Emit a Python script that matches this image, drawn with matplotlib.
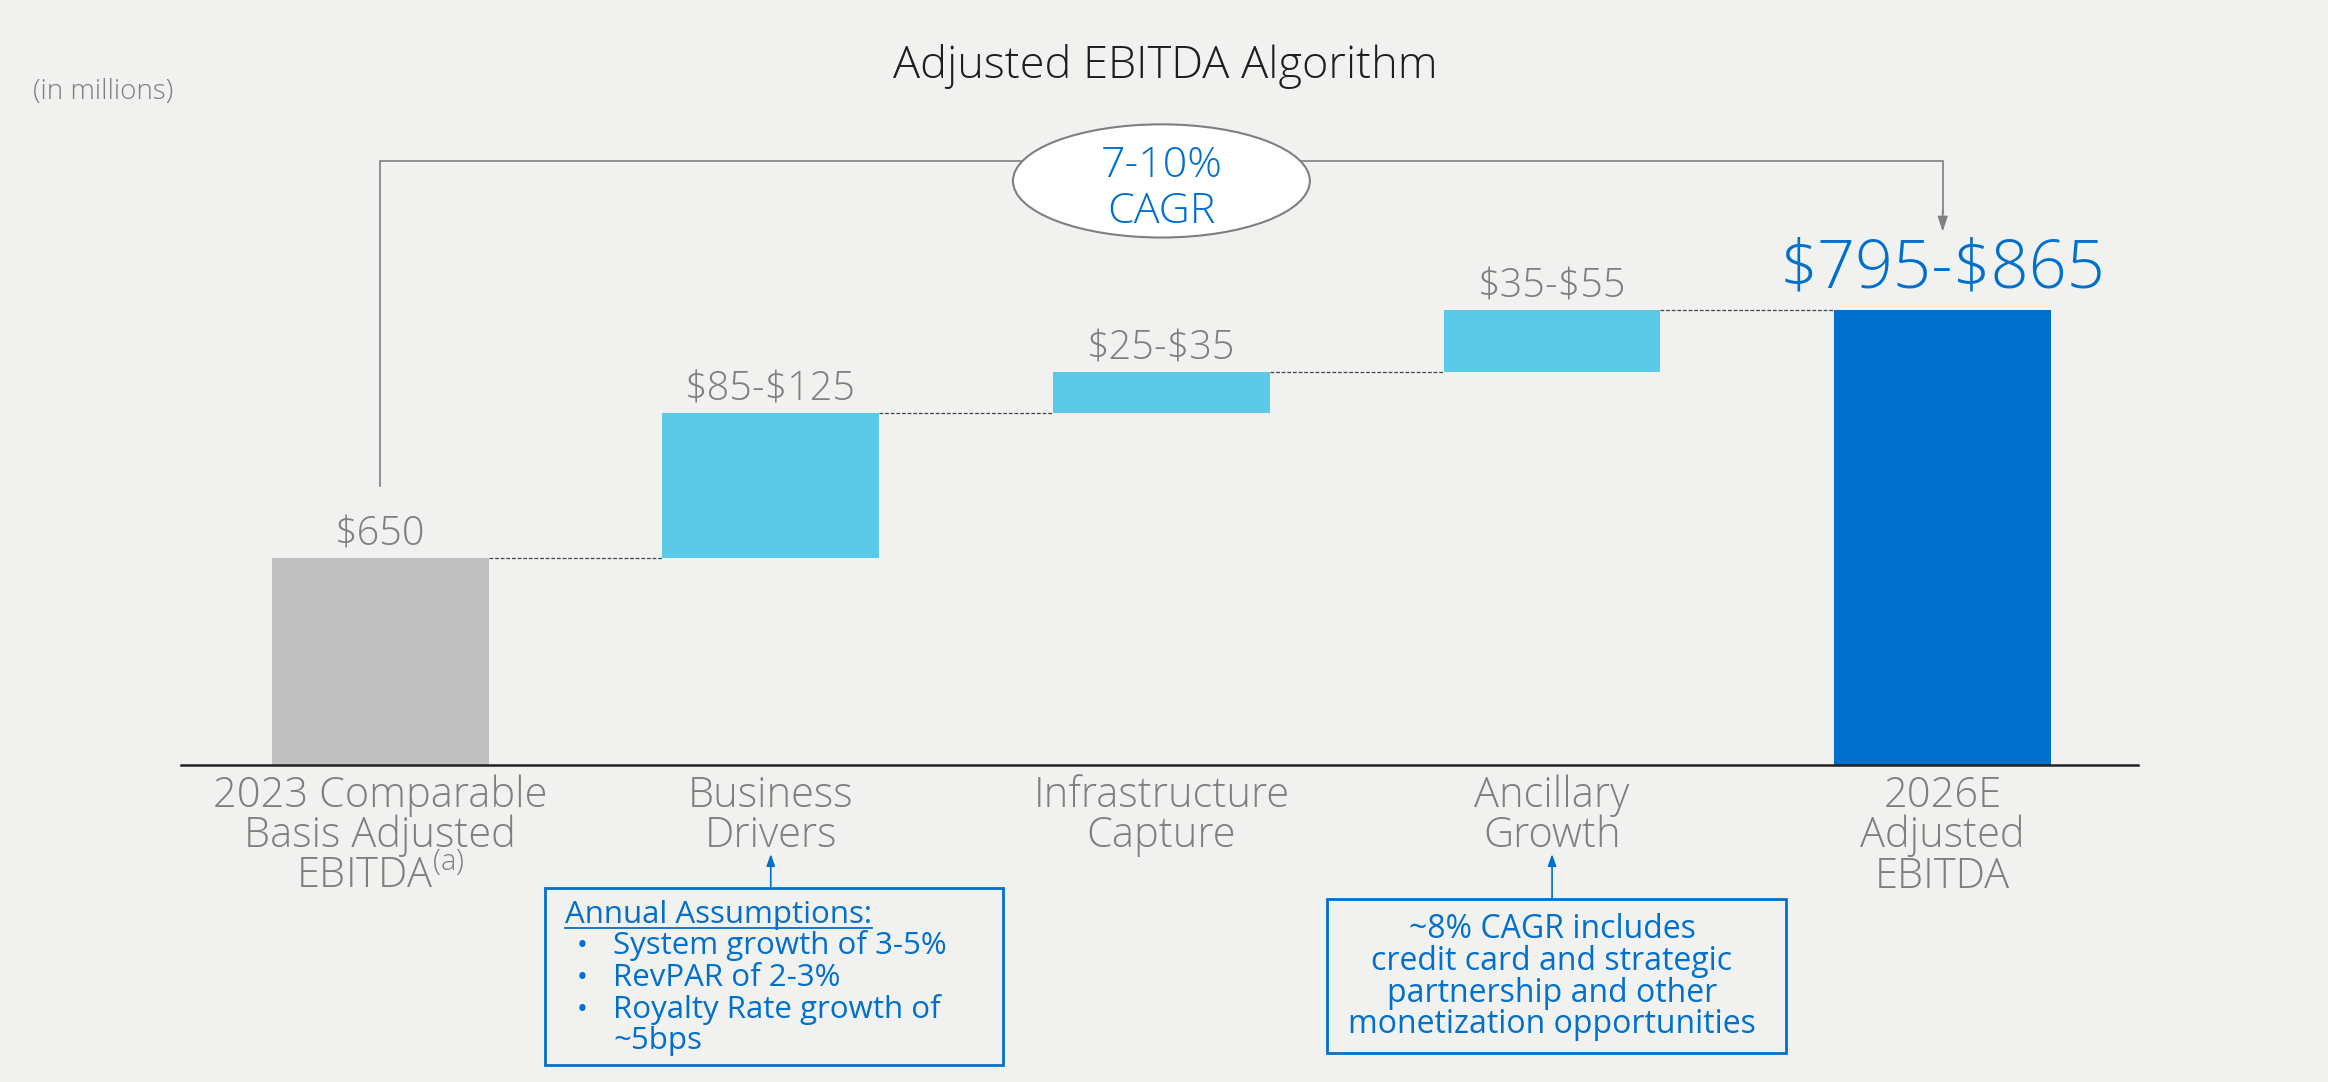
import matplotlib
matplotlib.use("Agg")
import matplotlib.pyplot as plt
from matplotlib.patches import Ellipse, Rectangle
from matplotlib.lines import Line2D
from matplotlib.transforms import blended_transform_factory

plt.rcParams['font.family'] = ['Open Sans', 'DejaVu Sans']
plt.rcParams['mathtext.fontset'] = 'custom'
plt.rcParams['mathtext.rm'] = 'Open Sans:light'

# data (in millions)
categories = ["2023 Comparable\nBasis Adjusted\nEBITDA$^{\\mathrm{(a)}}$", "Business\nDrivers",
              "Infrastructure\nCapture", "Ancillary\nGrowth", "2026E\nAdjusted\nEBITDA"]
base_value = 650
step_low = [85, 25, 35]
step_high = [125, 35, 55]
total_low, total_high = 795, 865
value_labels = ["$650", "$85-$125", "$25-$35", "$35-$55", "$795-$865"]
cagr_lines = ["7-10%", "CAGR"]
box1_title = "Annual Assumptions:"
box1_items = ["System growth of 3-5%", "RevPAR of 2-3%", "Royalty Rate growth of\n~5bps"]
box2_lines = ["~8% CAGR includes", "credit card and strategic", "partnership and other",
              "monetization opportunities"]

BG = '#f1f1ef'
GRAY_TXT = '#7f7f7f'
BLUE = '#0070cc'
LIGHT = '#5bc9e8'
BARGRAY = '#bfbfbf'

# waterfall geometry from range midpoints
steps = [(lo + hi) / 2 for lo, hi in zip(step_low, step_high)]
total = (total_low + total_high) / 2
bottoms = [0]
heights = [base_value]
run = base_value
for s in steps:
    bottoms.append(run)
    heights.append(s)
    run += s
bottoms.append(0)
heights.append(total)
colors = [BARGRAY, LIGHT, LIGHT, LIGHT, BLUE]
x = list(range(len(categories)))
w = 0.555

fig = plt.figure(figsize=(23.28, 10.82), dpi=100, facecolor=BG)
ax = fig.add_axes([0.0777, 0.293, 0.8407, 0.707])
ax.set_facecolor(BG)
ax.bar(x, heights, bottom=bottoms, width=w, color=colors, zorder=2)
ax.set_xlim(-0.51, 4.50)
ax.set_ylim(500, 1054.3)
for s in ['top', 'right', 'left']:
    ax.spines[s].set_visible(False)
ax.spines['bottom'].set_color('#222222')
ax.spines['bottom'].set_linewidth(1.8)
ax.set_yticks([])
ax.set_xticks([])

# category labels, one text per line (x in data, y in figure)
xf = blended_transform_factory(ax.transData, fig.transFigure)
for i, cat in enumerate(categories):
    for j, line in enumerate(cat.split('\n')):
        ax.text(x[i], 0.2544 - j * 0.0374, line, transform=xf, ha='center', va='baseline',
                fontsize=30, color=GRAY_TXT, fontweight='light')

# dashed connectors
tops = [b + h for b, h in zip(bottoms, heights)]
for i in range(len(x) - 1):
    ax.plot([x[i] + w / 2, x[i + 1] - w / 2], [tops[i], tops[i]], color='#444444',
            lw=0.9, ls=(0, (3, 1.5)), zorder=1)

# value labels
for i, lab in enumerate(value_labels):
    big = i == len(value_labels) - 1
    ax.annotate(lab.replace('$', r'\$'), (x[i], tops[i]), xytext=(0, 16 if big else 9),
                textcoords='offset points', ha='center', va='baseline',
                fontsize=48 if big else 28.5, color=BLUE if big else GRAY_TXT,
                fontweight='light')

# CAGR bracket
bracket_y = 937.9
ax.plot([x[0], x[0], x[-1], x[-1]], [702.5, bracket_y, bracket_y, 900],
        color='#808080', lw=1.2, zorder=1, solid_joinstyle='miter')
ax.annotate('', xy=(x[-1], 886.5), xytext=(x[-1], 902),
            arrowprops=dict(arrowstyle='-|>,head_width=0.3,head_length=0.9', color='#808080',
                            lw=1.2, shrinkA=0, shrinkB=0))
ax.add_patch(Ellipse((x[2], 923.2), 0.76, 82, facecolor='white', edgecolor='#7f7f7f',
                     lw=1.5, zorder=3))
ax.text(x[2], 926.3, cagr_lines[0], ha='center', va='baseline', fontsize=31, color=BLUE,
        fontweight='light', zorder=4)
ax.text(x[2], 892.5, cagr_lines[1], ha='center', va='baseline', fontsize=31, color=BLUE,
        fontweight='light', zorder=4)

# titles
fig.text(0.5006, 0.9275, "Adjusted EBITDA Algorithm", ha='center', va='baseline', fontsize=32.5,
         color='#1e1e1e', fontweight='light')
fig.text(0.0142, 0.9085, "(in millions)", ha='left', va='baseline', fontsize=20,
         color=GRAY_TXT, fontweight='light')

# note boxes
fig.patches.append(Rectangle((545 / 2328, 1 - 1065 / 1082), 458 / 2328, 177 / 1082,
                             transform=fig.transFigure, fill=False, edgecolor=BLUE, lw=2))
fig.patches.append(Rectangle((1327 / 2328, 1 - 1053 / 1082), 459 / 2328, 154 / 1082,
                             transform=fig.transFigure, fill=False, edgecolor=BLUE, lw=2))
for xi, yb in [(1, 1 - 888 / 1082), (3, 1 - 899 / 1082)]:
    ax.annotate('', xy=(x[xi], 0.2107), xytext=(x[xi], yb), xycoords=xf, textcoords=xf,
                arrowprops=dict(arrowstyle='-|>,head_width=0.25,head_length=0.7',
                                color=BLUE, lw=1.2, shrinkA=0, shrinkB=0))

t1 = fig.text(0.2427, 0.1472, box1_title, ha='left', va='baseline', fontsize=22.5, color=BLUE)
yy = 0.1472
for item in box1_items:
    for j, line in enumerate(item.split('\n')):
        yy -= 0.02925
        if j == 0:
            fig.text(0.2478, yy, "\u2022", ha='left', va='baseline', fontsize=21, color=BLUE)
        fig.text(0.2633, yy, line, ha='left', va='baseline', fontsize=22.5, color=BLUE)

for k, line in enumerate(box2_lines):
    ax.text(x[3], 0.1328 - k * 0.02925, line, transform=xf, ha='center', va='baseline',
            fontsize=23, color=BLUE)

# underline the box heading
fig.canvas.draw()
bb = t1.get_window_extent().transformed(fig.transFigure.inverted())
uy = 0.1472 - 0.0045
fig.add_artist(Line2D([bb.x0, bb.x1], [uy, uy], transform=fig.transFigure, color=BLUE, lw=1.3))

fig.savefig("out.png", dpi=100, facecolor=BG)
